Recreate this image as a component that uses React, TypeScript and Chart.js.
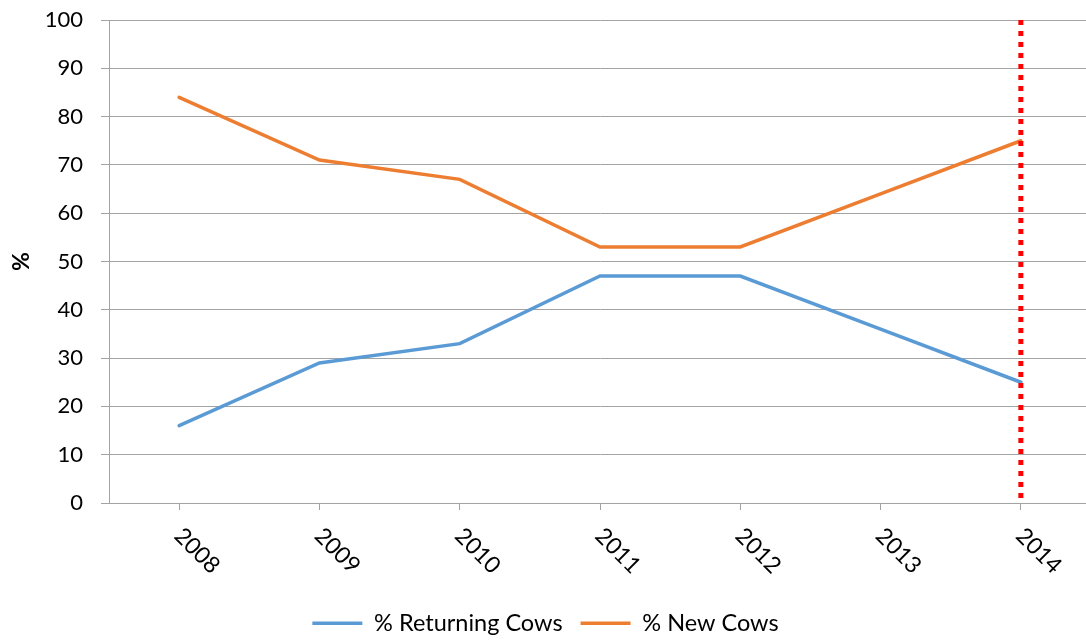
import React, { useEffect, useRef } from "react";
import { Chart, registerables } from "chart.js";

Chart.register(...registerables);

const years = ["2008", "2009", "2010", "2011", "2012", "2013", "2014"];
const returningCows = [16, 29, 33, 47, 47, 36, 25];
const newCows = [84, 71, 67, 53, 53, 64, 75];
const markerYear = "2014";
const markerRange = [100, 0];
const yTicks = [0, 10, 20, 30, 40, 50, 60, 70, 80, 90, 100];

const FONT = "Lato, 'Open Sans', sans-serif";
const GRID = "#a3a3a3";

const rotatedLabels = {
  id: "rotatedLabels",
  afterDraw(chart: any) {
    const scale = chart.scales.x;
    const ctx = chart.ctx;
    ctx.save();
    ctx.font = `23px ${FONT}`;
    ctx.fillStyle = "#000";
    ctx.textAlign = "left";
    ctx.textBaseline = "middle";
    years.forEach((label, i) => {
      const x = scale.getPixelForTick(i);
      ctx.save();
      ctx.translate(x - 1, scale.top + 29);
      ctx.rotate(Math.PI / 4);
      ctx.fillText(label, 0, 0);
      ctx.restore();
    });
    ctx.restore();
  },
};

export default function App() {
  const ref = useRef<HTMLCanvasElement>(null);
  useEffect(() => {
    if (!ref.current) return;
    const chart = new Chart(ref.current, {
      type: "line",
      data: {
        labels: years,
        datasets: [
          {
            label: "% Returning Cows",
            data: returningCows,
            borderColor: "#5b9bd5",
            backgroundColor: "#5b9bd5",
            borderWidth: 3.5,
            pointRadius: 0,
            tension: 0,
            borderCapStyle: "round",
            order: 1,
          },
          {
            label: "% New Cows",
            data: newCows,
            borderColor: "#ed7d31",
            backgroundColor: "#ed7d31",
            borderWidth: 3.5,
            pointRadius: 0,
            tension: 0,
            borderCapStyle: "round",
            order: 2,
          },
          {
            label: "marker",
            data: markerRange.map((v) => ({ x: markerYear, y: v })) as any,
            borderColor: "#ff0000",
            backgroundColor: "#ff0000",
            borderWidth: 5,
            borderDash: [5, 6],
            borderCapStyle: "butt",
            pointRadius: 0,
            tension: 0,
            order: 0,
          },
        ],
      },
      options: {
        responsive: false,
        animation: false,
        layout: { padding: { top: 20, right: 9, left: 0, bottom: 0 } },
        plugins: {
          tooltip: { enabled: false },
          legend: {
            position: "bottom",
            labels: {
              filter: (item: any) => item.text !== "marker",
              usePointStyle: true,
              pointStyle: "line",
              pointStyleWidth: 50,
              font: { family: FONT, size: 23.5 },
              color: "#000",
              padding: 18,
            },
          },
        },
        scales: {
          x: {
            type: "category",
            offset: true,
            grid: {
              display: true,
              drawOnChartArea: false,
              drawTicks: true,
              tickLength: 7,
              color: GRID,
              offset: false,
            },
            border: { display: true, color: GRID, width: 1 },
            ticks: { display: false },
            afterFit: (scale: any) => {
              scale.height = 90.5;
            },
          },
          y: {
            min: 0,
            max: 100,
            afterBuildTicks: (scale: any) => {
              scale.ticks = yTicks.map((v) => ({ value: v }));
            },
            grid: { color: GRID, tickLength: 8, drawTicks: true },
            border: { display: true, color: GRID, width: 1 },
            ticks: {
              padding: 18,
              font: { family: FONT, size: 22, lineHeight: 0.1 },
              color: "#000",
            },
            title: {
              display: true,
              text: "%",
              font: { family: FONT, size: 23, weight: "bold" },
              color: "#000",
              padding: { top: 8, bottom: 4 },
            },
            afterFit: (scale: any) => {
              scale.width = 109;
            },
          },
        },
      },
      plugins: [rotatedLabels],
    });
    return () => chart.destroy();
  }, []);
  return (
    <div
      style={{
        position: "fixed",
        left: 0,
        top: 0,
        width: 1086,
        height: 641,
        overflow: "hidden",
        background: "#fff",
      }}
    >
      <canvas ref={ref} width={1100} height={645} />
    </div>
  );
}
